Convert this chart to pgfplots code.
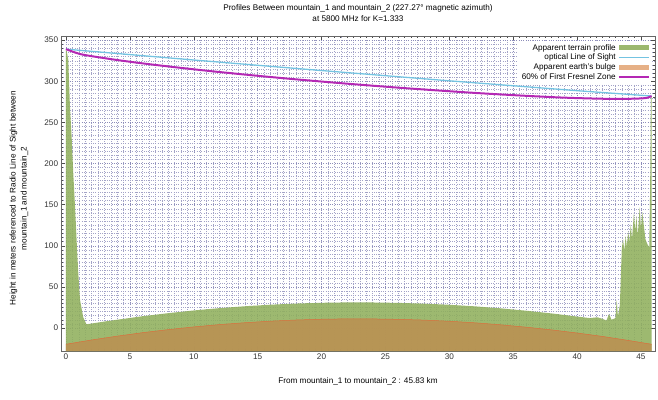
\documentclass[border=0pt]{standalone}
\usepackage{fontspec}
\setmainfont{Liberation Sans}
\usepackage{pgfplots}
\pgfplotsset{compat=1.18}
\definecolor{terrain}{RGB}{143,175,92}
\definecolor{bulge}{RGB}{186,146,84}
\definecolor{bulgeleg}{RGB}{228,170,124}
\definecolor{bulgeline}{RGB}{220,110,60}
\definecolor{los}{RGB}{115,195,225}
\definecolor{fresnel}{RGB}{180,40,180}
\definecolor{gridc}{RGB}{140,140,185}
\begin{document}
\fontsize{8.2}{11}\selectfont
\begin{tikzpicture}
\begin{axis}[
  scale only axis, width=594bp, height=315bp,
  xmin=-0.39, xmax=46.1, ymin=-28, ymax=355,
  axis on top=false,
  xtick={0,5,...,45}, ytick={0,50,...,350},
  minor x tick num=9, minor y tick num=9,
  grid=both,
  major grid style={dash pattern=on 0.7bp off 1.6bp, color=gridc, line width=0.35pt},
  minor grid style={dash pattern=on 0.7bp off 1.6bp, color=gridc!80, line width=0.3pt},
  tick style={black!70, line width=0.4pt},
  major tick length=4bp, minor tick length=2bp,
  axis line style={black!60},
  /pgf/number format/assume math mode=true,
  tick label style={font=\fontsize{8.2}{9}\selectfont, black!80},
  title={Profiles Between mountain\_1 and mountain\_2 (227.27° magnetic azimuth)\\at 5800 MHz for K=1.333},
  title style={at={(axis description cs:0.5,1)}, anchor=center, yshift=16.5bp, align=center, font=\fontsize{8.2}{11}\selectfont},
  xlabel={From mountain\_1 to mountain\_2 : 45.83 km},
  xlabel style={at={(axis description cs:0.5,0)}, anchor=center, yshift=-30bp, font=\fontsize{8.2}{11}\selectfont},
  ylabel={Height in meters referenced to Radio Line of Sight between\\mountain\_1 and mountain\_2},
  ylabel style={at={(axis description cs:-0.0707,0.485)}, anchor=center, align=center, font=\fontsize{8.2}{11}\selectfont},
  legend style={at={(axis description cs:0.994,0.985)}, anchor=north east, draw=none, fill=white, font=\fontsize{8.2}{9}\selectfont, row sep=-1.5pt, inner sep=1.5pt},
  legend cell align=right,
  legend plot pos=right,
]
\addplot[fill=terrain, fill opacity=0.88, draw=none,
  legend image code/.code={\fill[terrain] (0bp,-2.5bp) rectangle (30bp,2.5bp);}]
coordinates {(0,-28) (0,338) (0.05,337) (0.18,326) (0.31,269) (0.45,230) (0.57,188) (0.7,150) (0.83,107) (0.95,70) (1.1,34) (1.35,13) (1.6,4.5) (2,5.4) (3,7.8) (4,10) (6,14.3) (8,18) (10,21.3) (12,24.1) (14,26.4) (16,28.3) (18,29.7) (20,30.6) (22,31.1) (24,31) (26,30.5) (28,29.6) (30,28.2) (32,26.3) (34,23.9) (36,21) (38,17.7) (40,13.9) (41,12) (41.6,13) (42,11) (42.3,9) (42.5,17) (42.7,10) (43,12) (43.1,34) (43.2,14) (43.35,28) (43.5,96) (43.6,108) (43.7,94) (43.8,112) (43.9,99) (44,118) (44.1,104) (44.2,126) (44.3,108) (44.45,140) (44.55,118) (44.65,136) (44.75,112) (44.9,147) (45,121) (45.1,141) (45.2,128) (45.35,108) (45.5,102) (45.65,98) (45.72,170) (45.78,282) (45.83,282) (45.83,-28)};
\addlegendentry{Apparent terrain profile}
\addplot[los, line width=1.3pt,
  legend image code/.code={\draw[los, line width=1.3pt] (0bp,0bp) -- (30bp,0bp);}]
coordinates {(0,339) (10,325.8) (20,313) (30,300.5) (40,288.5) (45.83,282)};
\addlegendentry{optical Line of Sight}
\addplot[fill=bulge, fill opacity=0.92, draw=none,
  legend image code/.code={\fill[bulgeleg] (0bp,-2.5bp) rectangle (30bp,2.5bp);}]
coordinates {(0,-28) (0,-19.8) (2,-14.6) (4,-9.95) (6,-5.7) (8,-2.0) (10,1.3) (12,4.1) (14,6.4) (16,8.3) (18,9.7) (20,10.6) (22,11.1) (23,11.1) (24,11.0) (26,10.5) (28,9.6) (30,8.2) (32,6.3) (34,3.9) (36,1.0) (38,-2.3) (40,-6.1) (42,-10.3) (44,-15.1) (45.83,-19.8) (45.83,-28)};
\addlegendentry{Apparent earth's bulge}
\addplot[bulgeline, line width=0.5pt, forget plot]
coordinates {(0,-19.8) (2,-14.6) (4,-9.95) (6,-5.7) (8,-2.0) (10,1.3) (12,4.1) (14,6.4) (16,8.3) (18,9.7) (20,10.6) (22,11.1) (23,11.1) (24,11.0) (26,10.5) (28,9.6) (30,8.2) (32,6.3) (34,3.9) (36,1.0) (38,-2.3) (40,-6.1) (42,-10.3) (44,-15.1) (45.83,-19.8)};
\addplot[fresnel, line width=2pt, smooth,
  legend image code/.code={\draw[fresnel, line width=2pt] (0bp,0bp) -- (30bp,0bp);}]
coordinates {(0,339) (1,333.5) (2,330.5) (4,325.8) (6,321.7) (8,318.0) (10,314.5) (12,311.2) (15,306.6) (18,302.3) (21,298.3) (23,295.8) (26,292.2) (29,288.9) (32,285.8) (35,283.1) (38,280.7) (40,279.5) (42,278.7) (43,278.5) (44,278.6) (45,279.1) (45.5,279.9) (45.83,282)};
\addlegendentry{60\% of First Fresnel Zone}
\end{axis}
\pgfresetboundingbox
\path[use as bounding box] ([shift={(-61bp,-49bp)}]current axis.south west) rectangle ([shift={(3bp,36bp)}]current axis.north east);
\end{tikzpicture}
\end{document}
